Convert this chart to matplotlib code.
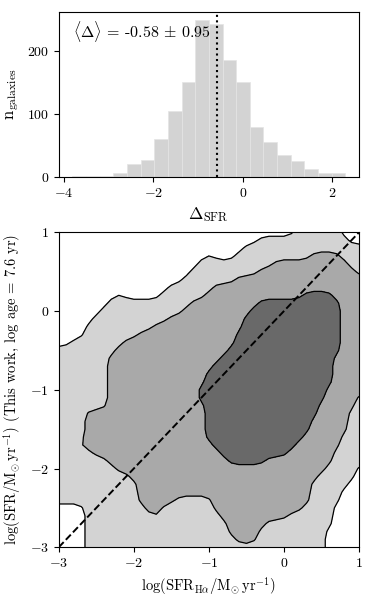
import matplotlib
matplotlib.use('agg')
import matplotlib.pyplot as plt
import numpy as np

plt.rcParams['font.family'] = 'serif'
plt.rcParams['font.serif'] = ['cmr10']
plt.rcParams['mathtext.fontset'] = 'cm'
plt.rcParams['axes.formatter.use_mathtext'] = True
plt.rcParams['font.size'] = 10

# histogram of Delta_SFR
hist_lo, hist_hi = -3.81, 2.29
hist_counts = [1, 2, 2, 6, 20, 27, 60, 104, 151, 249, 243, 185, 151, 80, 55, 35, 26, 13, 7, 7]
mean_delta = -0.58
hist_ticks = [-4, -2, 0, 2]

# density level map (0 = outside, 1/2/3 = contour levels), rows from top (y=1) to bottom (y=-3)
grid_x = (-3.0, 1.0, 41)
grid_y = (-3.0, 1.0, 41)
level_runs = [
    [(0, 32), (1, 6), (0, 3)],
    [(0, 27), (1, 12), (0, 2)],
    [(0, 25), (1, 16)],
    [(0, 20), (1, 1), (0, 3), (1, 10), (2, 4), (1, 3)],
    [(0, 19), (1, 10), (2, 10), (1, 2)],
    [(0, 18), (1, 9), (2, 13), (1, 1)],
    [(0, 17), (1, 7), (2, 17)],
    [(0, 15), (1, 6), (2, 20)],
    [(0, 8), (1, 1), (0, 5), (1, 6), (2, 13), (3, 4), (2, 4)],
    [(0, 7), (1, 11), (2, 9), (3, 11), (2, 3)],
    [(0, 6), (1, 11), (2, 9), (3, 12), (2, 3)],
    [(0, 5), (1, 10), (2, 10), (3, 13), (2, 3)],
    [(0, 4), (1, 9), (2, 12), (3, 13), (2, 3)],
    [(0, 4), (1, 7), (2, 13), (3, 14), (2, 3)],
    [(0, 2), (1, 7), (2, 15), (3, 14), (2, 3)],
    [(1, 8), (2, 15), (3, 15), (2, 3)],
    [(1, 7), (2, 15), (3, 15), (2, 4)],
    [(1, 7), (2, 14), (3, 16), (2, 4)],
    [(1, 7), (2, 13), (3, 17), (2, 4)],
    [(1, 7), (2, 13), (3, 17), (2, 4)],
    [(1, 7), (2, 12), (3, 17), (2, 5)],
    [(1, 7), (2, 12), (3, 17), (2, 4), (1, 1)],
    [(1, 7), (2, 13), (3, 15), (2, 5), (1, 1)],
    [(1, 4), (2, 16), (3, 15), (2, 4), (1, 2)],
    [(1, 4), (2, 16), (3, 14), (2, 5), (1, 2)],
    [(1, 4), (2, 16), (3, 14), (2, 5), (1, 2)],
    [(1, 4), (2, 16), (3, 13), (2, 5), (1, 3)],
    [(1, 3), (2, 18), (3, 11), (2, 6), (1, 3)],
    [(1, 5), (2, 17), (3, 9), (2, 6), (1, 4)],
    [(1, 7), (2, 16), (3, 5), (2, 9), (1, 4)],
    [(1, 8), (2, 28), (1, 4), (0, 1)],
    [(1, 10), (2, 25), (1, 5), (0, 1)],
    [(1, 11), (2, 23), (1, 5), (0, 2)],
    [(1, 11), (2, 23), (1, 4), (0, 3)],
    [(1, 11), (2, 5), (1, 5), (2, 13), (1, 4), (0, 3)],
    [(0, 4), (1, 8), (2, 2), (1, 7), (2, 12), (1, 4), (0, 4)],
    [(0, 4), (1, 9), (2, 1), (1, 8), (2, 9), (1, 6), (0, 4)],
    [(0, 4), (1, 19), (2, 5), (1, 9), (0, 4)],
    [(0, 4), (1, 19), (2, 4), (1, 9), (0, 5)],
    [(0, 4), (1, 20), (2, 3), (1, 9), (0, 5)],
    [(0, 4), (1, 32), (0, 5)],
]
one_to_one = [-3, 1]

rows = []
for runs in level_runs:
    row = []
    for lev, n in runs:
        row += [lev] * n
    assert len(row) == 41, runs
    rows.append(row)
Z = np.array(rows[::-1], dtype=float)

# light 1-2-1 smoothing so the contours are not blocky
k = np.array([0.25, 0.5, 0.25])
Zp = np.pad(Z, 1, mode='edge')
Zp = k[0] * Zp[:-2, :] + k[1] * Zp[1:-1, :] + k[2] * Zp[2:, :]
Z = k[0] * Zp[:, :-2] + k[1] * Zp[:, 1:-1] + k[2] * Zp[:, 2:]

xs = np.linspace(*grid_x)
ys = np.linspace(*grid_y)
X, Y = np.meshgrid(xs, ys)

fig = plt.figure(figsize=(3.74, 5.98), dpi=100)
ax1 = fig.add_axes([0.157, 0.704, 0.803, 0.276])
ax2 = fig.add_axes([0.157, 0.0848, 0.803, 0.5267])

edges = np.linspace(hist_lo, hist_hi, len(hist_counts) + 1)
ax1.hist(edges[:-1], bins=edges, weights=hist_counts, color='#d3d3d3',
         edgecolor='#e4e4e4', linewidth=0.5)
ax1.axvline(mean_delta, color='k', ls=':', lw=1.5)
ax1.set_xticks(hist_ticks)
ax1.text(0.048, 0.88, r'$\langle\Delta\rangle$ = -0.58 $\pm$ 0.95',
         transform=ax1.transAxes, fontsize=11.5, va='center', ha='left')
ax1.set_xlabel(r'$\Delta_{\rm SFR}$', fontsize=12.5)
ax1.set_ylabel(r'$\rm n_{galaxies}$', fontsize=12)

ax2.contourf(X, Y, Z, levels=[0.5, 1.5, 2.5, 3.5],
             colors=['#d3d3d3', '#a9a9a9', '#696969'])
ax2.contour(X, Y, Z, levels=[0.5, 1.5, 2.5], colors='k', linewidths=0.9)
ax2.plot(one_to_one, one_to_one, 'k--', lw=1.4)
ax2.set_xlim(-3, 1)
ax2.set_ylim(-3, 1)
ax2.set_xticks([-3, -2, -1, 0, 1])
ax2.set_yticks([-3, -2, -1, 0, 1])
ax2.set_xlabel(r'$\log(\mathrm{SFR_{H\alpha}/M_{\odot}\,yr^{-1}})$', fontsize=10.5)
ax2.set_ylabel(r'$\log(\mathrm{SFR/M_{\odot}\,yr^{-1}})$ (This work, log age = 7.6 yr)',
               fontsize=10.5)

plt.savefig('out.png', dpi=100)
